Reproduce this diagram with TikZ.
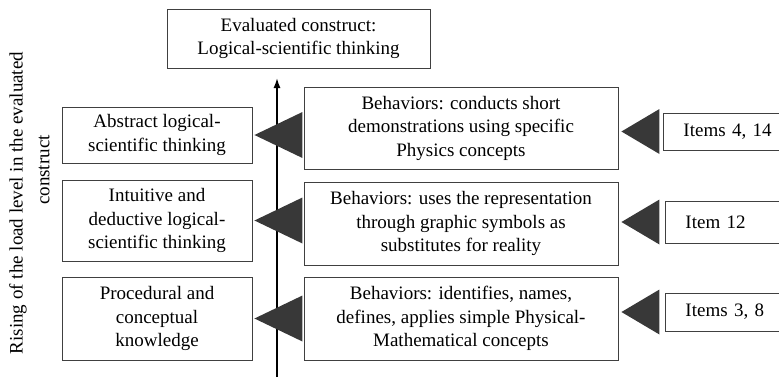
\documentclass[tikz,border=0pt]{standalone}
\usepackage{fontspec}
\setmainfont{Liberation Serif}
\usetikzlibrary{arrows.meta,calc}
\begin{document}
\begin{tikzpicture}[x=1pt,y=-1pt,
    box/.style={draw=black!75, line width=0.9pt, align=center, inner sep=0pt,
      font=\fontsize{19}{23.5}\selectfont},
    level/.style={box, minimum width=190},
    behav/.style={box, minimum width=314},
    itembox/.style={box, anchor=west, align=left, inner xsep=20pt, text width=95pt},
    tri/.style={fill=black!78},
    rise/.style={line width=1.6pt, -{Latex[length=10pt,width=7pt]}}]
  \useasboundingbox (0,0) rectangle (779,381);
  \clip (0,0) rectangle (779,381);
  % construct on top
  \node[box, minimum width=263, minimum height=59] (construct) at (298.5,38.5)
    {Evaluated construct:\\Logical-scientific thinking};
  % vertical axis
  \coordinate (axisfoot) at (277,377);
  \coordinate (axistop) at (277,78);
  \draw[rise] (axisfoot) -- (axistop);
  \node[rotate=90, font=\fontsize{19}{23}\selectfont] (risetext) at (18,203)
    {Rising of the load level in the evaluated};
  \node[rotate=90, font=\fontsize{19}{23}\selectfont] (risetext2) at (44,170) {construct};
  % levels
  \node[level, minimum height=56] (level1) at (157,135) {Abstract logical-\\scientific thinking};
  \node[level, minimum height=81] (level2) at (157,220.5) {Intuitive and\\deductive logical-\\scientific thinking};
  \node[level, minimum height=83] (level3) at (157,318.5) {Procedural and\\conceptual\\knowledge};
  % behaviors
  \node[behav, minimum height=82] (behav1) at (461,128)
    {Behaviors: conducts short\\demonstrations using specific\\Physics concepts};
  \node[behav, minimum height=83] (behav2) at (461,223.5)
    {Behaviors: uses the representation\\through graphic symbols as\\substitutes for reality};
  \node[behav, minimum height=83] (behav3) at (461,318.5)
    {Behaviors: identifies, names,\\defines, applies simple Physical-\\Mathematical concepts};
  % items
  \node[itembox, minimum height=37] (item1) at (663,131.5) {Items 4, 14};
  \node[itembox, minimum height=42] (item2) at (665,222) {Item 12};
  \node[itembox, minimum height=38] (item3) at (665,312) {Items 3, 8};
  % triangles
  \foreach \i in {1,2,3} {
    \fill[tri] ([xshift=2pt]level\i.east) -- ++(48,-23) -- ++(0,46) -- cycle;
    \fill[tri] ($(behav\i.east |- item\i.west)+(3,0)$) -- ++(38,-22.5) -- ++(0,45) -- cycle;
  }
\end{tikzpicture}
\end{document}
